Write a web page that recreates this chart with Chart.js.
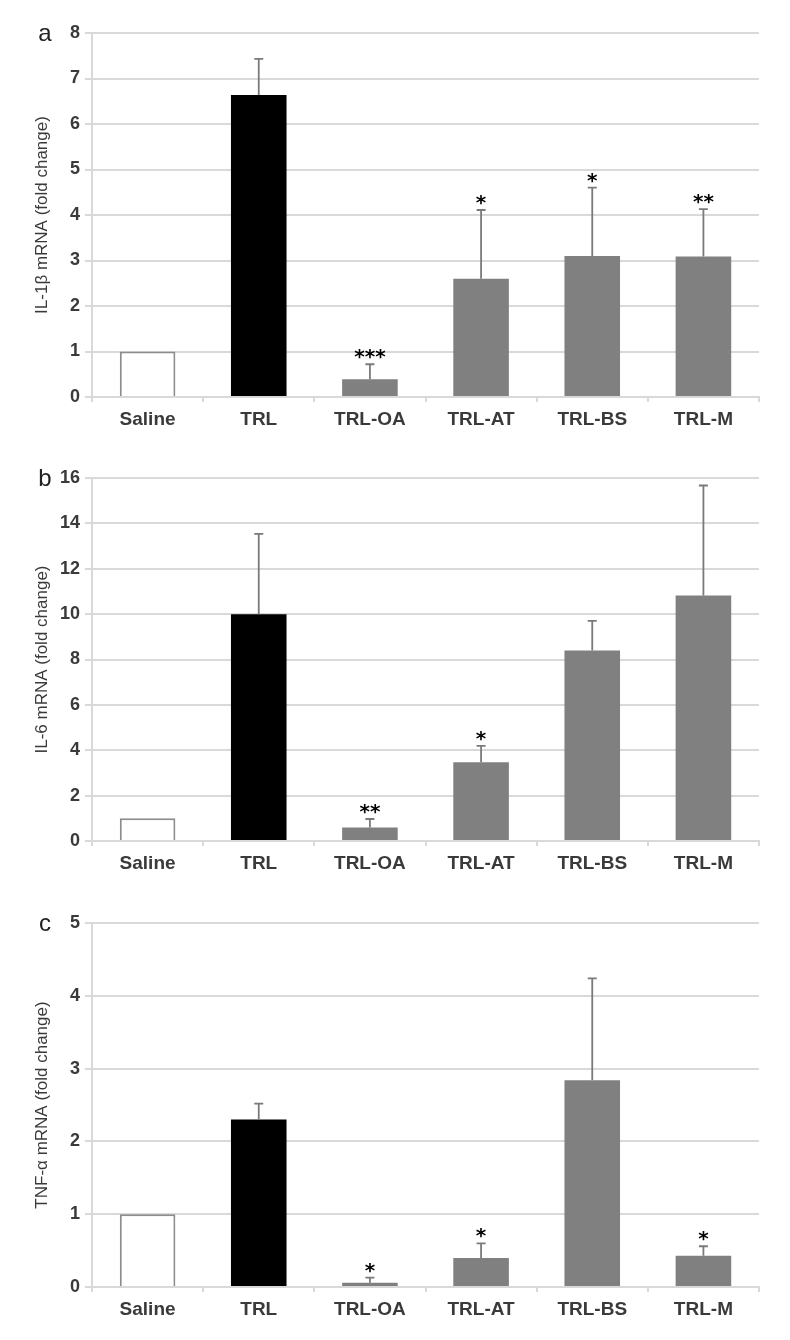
<!DOCTYPE html>
<html>
<head>
<meta charset="utf-8">
<script src="https://cdn.jsdelivr.net/npm/chart.js@4.4.1/dist/chart.umd.min.js"></script>
<style>
  body { margin: 0; background: #fff; width: 790px; height: 1340px; overflow: hidden; }
  .panel { position: absolute; left: 0; width: 790px; }
</style>
</head>
<body>
<div class="panel" style="top:0px"><canvas id="chartA" width="790" height="440"></canvas></div>
<div class="panel" style="top:445px"><canvas id="chartB" width="790" height="439"></canvas></div>
<div class="panel" style="top:890px"><canvas id="chartC" width="790" height="440"></canvas></div>
<script>
// groups on the x axis
const groups = ['Saline', 'TRL', 'TRL-OA', 'TRL-AT', 'TRL-BS', 'TRL-M'];

// panel a: IL-1b
const il1bMean = [1, 6.64, 0.39, 2.6, 3.1, 3.09];
const il1bErr = [0, 0.79, 0.33, 1.51, 1.5, 1.04];
const il1bSig = ['', '', '***', '*', '*', '**'];

// panel b: IL-6
const il6Mean = [1, 10.0, 0.6, 3.47, 8.4, 10.82];
const il6Err = [0, 3.54, 0.37, 0.72, 1.3, 4.85];
const il6Sig = ['', '', '**', '*', '', ''];

// panel c: TNF-a
const tnfMean = [1, 2.3, 0.06, 0.4, 2.84, 0.43];
const tnfErr = [0, 0.22, 0.07, 0.2, 1.4, 0.13];
const tnfSig = ['', '', '*', '*', '', '*'];

const barFill = ['#ffffff', '#000000', '#808080', '#808080', '#808080', '#808080'];
const barEdge = ['#8c8c8c', '#000000', '#808080', '#808080', '#808080', '#808080'];
const gridColor = '#d9d9d9';
const textColor = '#3a3a3a';

const errorBars = {
    id: 'errorBars',
    afterDatasetsDraw(chart, args, opts) {
        const ctx = chart.ctx;
        const meta = chart.getDatasetMeta(0);
        const yScale = chart.scales.y;
        ctx.save();
        meta.data.forEach((bar, i) => {
            const err = opts.errors[i];
            const top = yScale.getPixelForValue(opts.means[i] + err);
            if (err > 0) {
                ctx.strokeStyle = '#7a7a7a';
                ctx.lineWidth = 1.8;
                ctx.beginPath();
                ctx.moveTo(bar.x, bar.y);
                ctx.lineTo(bar.x, top);
                ctx.moveTo(bar.x - 4.5, top);
                ctx.lineTo(bar.x + 4.5, top);
                ctx.stroke();
            }
            if (opts.sig[i]) {
                ctx.fillStyle = '#000';
                ctx.font = 'bold 20px "DejaVu Sans", sans-serif';
                ctx.textAlign = 'center';
                ctx.textBaseline = 'alphabetic';
                ctx.fillText(opts.sig[i], bar.x, top - 1);
            }
        });
        // panel letter
        const area = chart.chartArea;
        ctx.fillStyle = '#222';
        ctx.font = '24px "Liberation Sans", Arial, sans-serif';
        ctx.textAlign = 'center';
        ctx.textBaseline = 'alphabetic';
        ctx.fillText(opts.letter, area.left - 47, area.top + 8);
        ctx.restore();
    }
};

function createPanel(canvasId, means, errors, sig, yMax, step, yTitle, letter) {
    return new Chart(document.getElementById(canvasId), {
        type: 'bar',
        data: {
            labels: groups,
            datasets: [{
                data: means,
                backgroundColor: barFill,
                borderColor: barEdge,
                borderWidth: [2, 0, 0, 0, 0, 0],
                barPercentage: 0.5,
                categoryPercentage: 1.0
            }]
        },
        options: {
            responsive: false,
            animation: false,
            layout: { padding: { top: 33, right: 31, bottom: 10, left: 0 } },
            plugins: {
                legend: { display: false },
                tooltip: { enabled: false },
                errorBars: { means: means, errors: errors, sig: sig, letter: letter }
            },
            scales: {
                x: {
                    afterFit: (s) => { s.height = 33; },
                    grid: {
                        offset: true,
                        drawOnChartArea: true,
                        color: (c) => c.index === groups.length ? gridColor : 'rgba(0,0,0,0)',
                        tickColor: gridColor,
                        tickLength: 5,
                        lineWidth: 2
                    },
                    border: { color: gridColor, width: 2 },
                    ticks: {
                        color: textColor,
                        padding: 6,
                        font: { family: '"Liberation Sans", Arial, sans-serif', size: 19, weight: 'bold' }
                    }
                },
                y: {
                    min: 0,
                    max: yMax,
                    afterFit: (s) => { s.width = 92; },
                    grid: { color: gridColor, lineWidth: 2, tickLength: 7 },
                    border: { color: gridColor, width: 2 },
                    ticks: {
                        stepSize: step,
                        color: textColor,
                        padding: 5,
                        font: { family: '"Liberation Sans", Arial, sans-serif', size: 18, weight: 'bold' }
                    },
                    title: {
                        display: true,
                        text: yTitle,
                        color: textColor,
                        padding: { top: 32, bottom: 0 },
                        font: { family: '"Liberation Sans", Arial, sans-serif', size: 17 }
                    }
                }
            }
        },
        plugins: [errorBars]
    });
}

createPanel('chartA', il1bMean, il1bErr, il1bSig, 8, 1, 'IL-1β mRNA (fold change)', 'a');
createPanel('chartB', il6Mean, il6Err, il6Sig, 16, 2, 'IL-6 mRNA (fold change)', 'b');
createPanel('chartC', tnfMean, tnfErr, tnfSig, 5, 1, 'TNF-α mRNA (fold change)', 'c');
</script>
</body>
</html>
